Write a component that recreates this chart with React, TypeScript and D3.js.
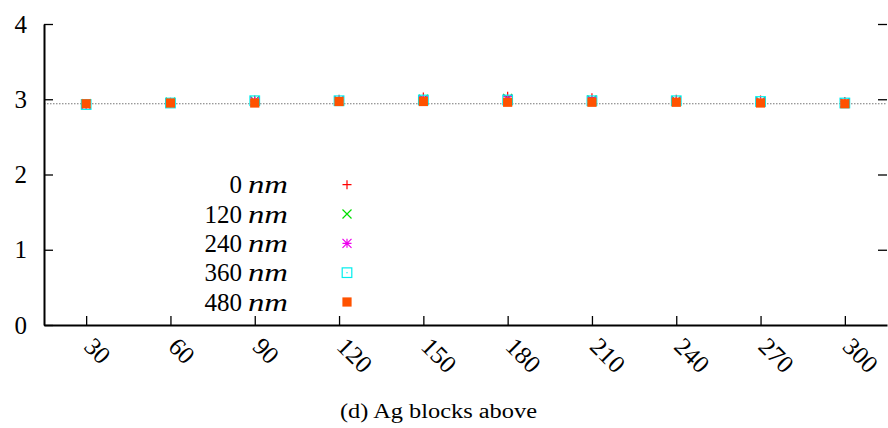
import { useRef, useEffect } from 'react';
import * as d3 from 'd3';

// x positions (block spacing) and measured values per spacer thickness
const xValues = [30, 60, 90, 120, 150, 180, 210, 240, 270, 300];
const nm0 = [2.94, 2.96, 2.99, 3.0, 3.03, 3.04, 3.02, 3.0, 2.99, 2.97];
const nm120 = [2.94, 2.96, 2.98, 2.98, 3.0, 3.01, 2.99, 2.98, 2.97, 2.95];
const nm240 = [2.93, 2.95, 2.97, 2.98, 2.99, 3.0, 2.98, 2.97, 2.96, 2.95];
const nm360 = [2.93, 2.95, 2.98, 2.98, 2.99, 2.99, 2.98, 2.98, 2.97, 2.95];
const nm480 = [2.94, 2.95, 2.95, 2.97, 2.97, 2.96, 2.96, 2.96, 2.95, 2.94];
const legendLabels = ['0', '120', '240', '360', '480'];
const yTicks = [0, 1, 2, 3, 4];
const refValue = 2.94;
const caption = '(d) Ag blocks above';

const width = 888;
const height = 428;
const font = "'Liberation Serif', 'DejaVu Serif', serif";

type MarkerKind = 'plus' | 'cross' | 'star' | 'box' | 'filled';

const series: { values: number[]; color: string; kind: MarkerKind }[] = [
  { values: nm0, color: '#ff0000', kind: 'plus' },
  { values: nm120, color: '#00dd00', kind: 'cross' },
  { values: nm240, color: '#ee00ee', kind: 'star' },
  { values: nm360, color: '#00eeee', kind: 'box' },
  { values: nm480, color: '#ff5200', kind: 'filled' },
];

const Marker = ({ kind, color, cx, cy }: { kind: MarkerKind; color: string; cx: number; cy: number }) => {
  const s = 4.5;
  if (kind === 'plus') {
    return <path d={`M${cx - s},${cy}H${cx + s}M${cx},${cy - s}V${cy + s}`} stroke={color} strokeWidth={1.2} fill="none" />;
  }
  if (kind === 'cross') {
    return <path d={`M${cx - s},${cy - s}L${cx + s},${cy + s}M${cx - s},${cy + s}L${cx + s},${cy - s}`} stroke={color} strokeWidth={1.2} fill="none" />;
  }
  if (kind === 'star') {
    return (
      <path
        d={`M${cx - s},${cy}H${cx + s}M${cx},${cy - s}V${cy + s}M${cx - s},${cy - s}L${cx + s},${cy + s}M${cx - s},${cy + s}L${cx + s},${cy - s}`}
        stroke={color}
        strokeWidth={1.2}
        fill="none"
      />
    );
  }
  if (kind === 'box') {
    return (
      <g>
        <rect x={cx - 4.8} y={cy - 4.8} width={9.6} height={9.6} stroke={color} strokeWidth={1.2} fill="none" />
        <rect x={cx - 0.6} y={cy - 0.6} width={1.2} height={1.2} fill={color} />
      </g>
    );
  }
  return <rect x={cx - 4.6} y={cy - 4.6} width={9.2} height={9.2} fill={color} />;
};

export default function App() {
  const gx = useRef<SVGGElement>(null);
  const gy = useRef<SVGGElement>(null);
  const gyr = useRef<SVGGElement>(null);

  const x = d3.scaleLinear().domain([15, 315]).range([44, 887]);
  const y = d3.scaleLinear().domain([0, 4]).range([325, 24]);

  useEffect(() => {
    const el = gx.current;
    if (el) {
      const g = d3.select(el);
      g.call(d3.axisBottom(x).tickValues(xValues).tickSizeInner(-9).tickSizeOuter(0).tickFormat((d) => `${d}`));
      g.attr('font-family', font);
      g.select('.domain').attr('stroke-width', 2);
      g.selectAll('.tick line').attr('stroke-width', 1.3);
      g.selectAll('.tick text')
        .attr('x', 0)
        .attr('y', 0)
        .attr('dy', 0)
        .attr('transform', 'translate(-4,23) rotate(45)')
        .attr('text-anchor', 'start')
        .attr('font-size', 25)
        .attr('fill', '#000');
    }
    return () => {
      d3.select(el).selectAll('*').remove();
    };
  }, [gx]);

  useEffect(() => {
    const el = gy.current;
    if (el) {
      const g = d3.select(el);
      g.call(d3.axisLeft(y).tickValues(yTicks).tickSizeInner(-9).tickSizeOuter(0).tickPadding(17).tickFormat((d) => `${d}`));
      g.attr('font-family', font);
      g.select('.domain').attr('stroke-width', 2);
      g.selectAll('.tick line').attr('stroke-width', 1.3);
      g.selectAll('.tick text').attr('font-size', 25).attr('fill', '#000');
    }
    return () => {
      d3.select(el).selectAll('*').remove();
    };
  }, [gy]);

  useEffect(() => {
    const el = gyr.current;
    if (el) {
      const g = d3.select(el);
      g.call(d3.axisRight(y).tickValues(yTicks.slice(1)).tickSizeInner(-9).tickSizeOuter(0).tickFormat(() => ''));
      g.select('.domain').remove();
      g.selectAll('.tick line').attr('stroke-width', 1.3);
    }
    return () => {
      d3.select(el).selectAll('*').remove();
    };
  }, [gyr]);

  const legendY = d3.scaleLinear().domain([0, 4]).range([184.7, 302]);

  return (
    <svg
      width={width}
      height={height}
      fontFamily={font}
      style={{ position: 'absolute', left: 0, top: 0, background: '#fff' }}
    >
      <line x1={x(15)} x2={x(315)} y1={y(refValue)} y2={y(refValue)} stroke="#777" strokeWidth={1} strokeDasharray="1.5,1.5" />
      {series.map((s, si) => (
        <g key={si}>
          {s.values.map((v, i) => (
            <Marker key={i} kind={s.kind} color={s.color} cx={x(xValues[i])} cy={y(v)} />
          ))}
        </g>
      ))}
      <g ref={gx} transform={`translate(0,${y(0)})`} />
      <g ref={gy} transform={`translate(${x(15)},0)`} />
      <g ref={gyr} transform={`translate(${x(315)},0)`} />
      {series.map((s, i) => (
        <g key={`lg${i}`}>
          <text x={242} y={legendY(i) + 8.5} textAnchor="end" fontSize={25} fill="#000">
            {legendLabels[i]}
          </text>
          <text
            x={248}
            y={legendY(i) + 8.5}
            fontSize={25}
            fontStyle="italic"
            fill="#000"
            textLength={40}
            lengthAdjust="spacingAndGlyphs"
          >
            nm
          </text>
          <Marker kind={s.kind} color={s.color} cx={347} cy={legendY(i)} />
        </g>
      ))}
      <text
        x={438.5}
        y={418}
        textAnchor="middle"
        fontSize={20}
        fill="#000"
        textLength={197}
        lengthAdjust="spacingAndGlyphs"
      >
        {caption}
      </text>
    </svg>
  );
}
